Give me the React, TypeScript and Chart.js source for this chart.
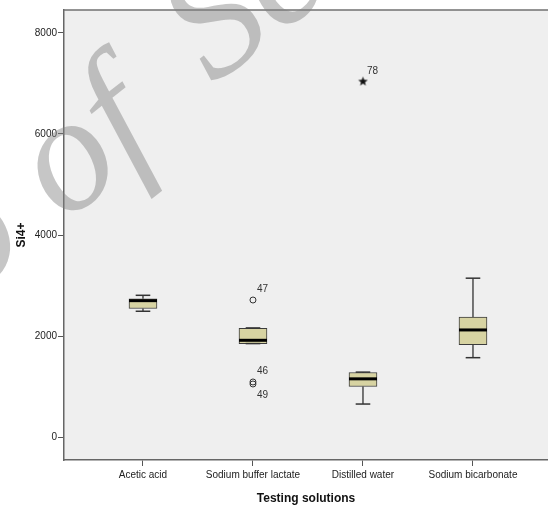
import React, { useEffect, useRef } from "react";
import { Chart, registerables } from "chart.js";

Chart.register(...registerables);

// ---- data ----
const categories = ["Acetic acid", "Sodium buffer lactate", "Distilled water", "Sodium bicarbonate"];
const whiskerMin = [2490, 1850, 653, 1571];
const q1 = [2545, 1850, 1000, 1828];
const median = [2700, 1915, 1152, 2120];
const q3 = [2738, 2152, 1277, 2375];
const whiskerMax = [2806, 2160, 1285, 3145];

const outlierCat = [1, 1, 1];
const outlierValues = [2713, 1090, 1050];
const outlierIds = ["47", "46", "49"];
const outlierLabelBelow = [false, false, true];

const extremeCat = [2];
const extremeValues = [7049];
const extremeIds = ["78"];

const yTicks = [0, 2000, 4000, 6000, 8000];
const yMin = -455;
const yMax = 8455;
const xMin = -0.718;
const xMax = 3.682;

const FONT = "Arial, 'Liberation Sans', sans-serif";
const SERIF = "'Liberation Serif', 'Times New Roman', 'DejaVu Serif', serif";

function makeStar(): HTMLCanvasElement {
  const c = document.createElement("canvas");
  c.width = 11;
  c.height = 11;
  const ctx = c.getContext("2d")!;
  ctx.fillStyle = "#111";
  ctx.beginPath();
  const cx = 5.5, cy = 6, R = 5, r = 2.1;
  for (let i = 0; i < 10; i++) {
    const a = -Math.PI / 2 + (i * Math.PI) / 5;
    const rad = i % 2 === 0 ? R : r;
    const x = cx + rad * Math.cos(a);
    const y = cy + rad * Math.sin(a);
    if (i === 0) ctx.moveTo(x, y);
    else ctx.lineTo(x, y);
  }
  ctx.closePath();
  ctx.fill();
  return c;
}

function zeroPad(s: any) {
  s.paddingTop = 0;
  s.paddingBottom = 0;
  s.paddingLeft = 0;
  s.paddingRight = 0;
}

export default function App() {
  const ref = useRef<HTMLCanvasElement>(null);

  useEffect(() => {
    document.body.style.margin = "0";
    const canvas = ref.current!;

    const whiskerData: any[] = [];
    categories.forEach((_, i) => {
      whiskerData.push({ x: i, y: q3[i] }, { x: i, y: whiskerMax[i] }, { x: i, y: null });
      whiskerData.push({ x: i, y: q1[i] }, { x: i, y: whiskerMin[i] }, { x: i, y: null });
    });
    const capData: any[] = [];
    categories.forEach((_, i) => {
      capData.push({ x: i, y: whiskerMax[i] }, { x: i, y: whiskerMin[i] });
    });

    const bgPlugin = {
      id: "bg",
      beforeDraw(chart: any) {
        const { ctx, chartArea: a } = chart;
        ctx.save();
        ctx.fillStyle = "#ffffff";
        ctx.fillRect(0, 0, chart.width, chart.height);
        ctx.fillStyle = "#efefef";
        ctx.fillRect(a.left, a.top, a.right - a.left, a.bottom - a.top);
        ctx.restore();
      },
      afterDraw(chart: any) {
        const { ctx, chartArea: a } = chart;
        ctx.save();
        ctx.strokeStyle = "#707070";
        ctx.lineWidth = 1.5;
        ctx.beginPath();
        ctx.moveTo(a.left, a.top);
        ctx.lineTo(a.right, a.top);
        ctx.stroke();
        // watermark
        ctx.translate(96, 198);
        ctx.rotate((-38 * Math.PI) / 180);
        ctx.font = `italic 165px ${SERIF}`;
        ctx.fillStyle = "rgba(128,128,128,0.45)";
        ctx.textBaseline = "alphabetic";
        const pre = ctx.measureText("o ").width;
        const ow = ctx.measureText("o").width;
        const x0 = -(pre + ow / 2);
        ctx.fillText("o of", x0, 0);
        const w = ctx.measureText("o of ").width;
        ctx.fillText("Sc", x0 + w + 33, -16);
        ctx.restore();
      },
    };

    const labelPlugin = {
      id: "outlierLabels",
      afterDatasetsDraw(chart: any) {
        const { ctx, scales } = chart;
        ctx.save();
        ctx.font = `10px ${FONT}`;
        ctx.fillStyle = "#333";
        ctx.textBaseline = "middle";
        ctx.textAlign = "left";
        outlierIds.forEach((id, i) => {
          const px = scales.x.getPixelForValue(outlierCat[i]);
          const py = scales.y.getPixelForValue(outlierValues[i]);
          ctx.fillText(id, px + 4, py + (outlierLabelBelow[i] ? 11 : -11));
        });
        extremeIds.forEach((id, i) => {
          const px = scales.x.getPixelForValue(extremeCat[i]);
          const py = scales.y.getPixelForValue(extremeValues[i]);
          ctx.fillText(id, px + 4, py - 10);
        });
        ctx.restore();
      },
    };

    const chart = new Chart(canvas, {
      type: "bar",
      data: {
        datasets: [
          {
            type: "scatter",
            label: "median",
            order: 0,
            data: median.map((v, i) => ({ x: i, y: v })),
            pointStyle: "line",
            radius: 14,
            borderWidth: 3,
            borderColor: "#000",
            backgroundColor: "#000",
          } as any,
          {
            type: "scatter",
            label: "caps",
            order: 1,
            data: capData,
            pointStyle: "line",
            radius: 7.3,
            borderWidth: 1.5,
            borderColor: "#333",
          } as any,
          {
            type: "scatter",
            label: "outliers",
            order: 1,
            data: outlierValues.map((v, i) => ({ x: outlierCat[i], y: v })),
            pointStyle: "circle",
            radius: 3,
            borderWidth: 1,
            borderColor: "#333",
            backgroundColor: "rgba(0,0,0,0)",
          } as any,
          {
            type: "scatter",
            label: "extremes",
            order: 1,
            data: extremeValues.map((v, i) => ({ x: extremeCat[i], y: v })),
            pointStyle: makeStar(),
            radius: 5,
          } as any,
          {
            type: "line",
            label: "whiskers",
            order: 2,
            data: whiskerData,
            spanGaps: false,
            pointRadius: 0,
            borderWidth: 1.3,
            borderColor: "#333",
            tension: 0,
          } as any,
          {
            type: "bar",
            label: "box",
            order: 3,
            data: q1.map((v, i) => ({ x: i, y: [v, q3[i]] })),
            backgroundColor: "#d7d3a2",
            borderColor: "#3c3c3c",
            borderWidth: 1,
            borderSkipped: false,
            barThickness: 28,
          } as any,
        ],
      },
      options: {
        responsive: false,
        animation: false,
        events: [],
        layout: { autoPadding: false, padding: { top: 10, right: 0, left: 0, bottom: 0 } },
        plugins: {
          legend: { display: false },
          tooltip: { enabled: false },
        },
        scales: {
          x: {
            type: "linear",
            min: xMin,
            max: xMax,
            offset: false,
            afterBuildTicks: (s: any) => {
              s.ticks = categories.map((_, i) => ({ value: i }));
            },
            afterFit: (s: any) => {
              s.height = 46;
              zeroPad(s);
            },
            ticks: {
              autoSkip: false,
              maxRotation: 0,
              padding: 3,
              color: "#222",
              font: { size: 10, family: FONT },
              callback: (v: any) => categories[v] ?? "",
            },
            grid: {
              drawOnChartArea: false,
              drawTicks: true,
              tickLength: 6,
              color: "#555",
              offset: false,
            },
            border: { display: true, color: "#666", width: 1.5 },
            title: {
              display: true,
              text: "Testing solutions",
              color: "#111",
              font: { size: 12, weight: "bold", family: FONT },
              padding: { top: 0, bottom: 0 },
            },
          },
          y: {
            type: "linear",
            min: yMin,
            max: yMax,
            afterBuildTicks: (s: any) => {
              s.ticks = yTicks.map((v) => ({ value: v }));
            },
            afterFit: (s: any) => {
              s.width = 64;
              zeroPad(s);
            },
            ticks: {
              padding: 1,
              color: "#222",
              font: { size: 10, family: FONT },
              callback: (v: any) => String(v),
            },
            grid: {
              drawOnChartArea: false,
              drawTicks: true,
              tickLength: 6,
              color: "#555",
            },
            border: { display: true, color: "#666", width: 1.5 },
            title: {
              display: true,
              text: "Si4+",
              color: "#111",
              font: { size: 12, weight: "bold", family: FONT },
              padding: { top: 14, bottom: 0 },
            },
          },
        },
      } as any,
      plugins: [bgPlugin, labelPlugin],
    });

    return () => chart.destroy();
  }, []);

  return (
    <div style={{ position: "fixed", left: 0, top: 0, width: 548, height: 506 }}>
      <canvas ref={ref} width={548} height={506} />
    </div>
  );
}
